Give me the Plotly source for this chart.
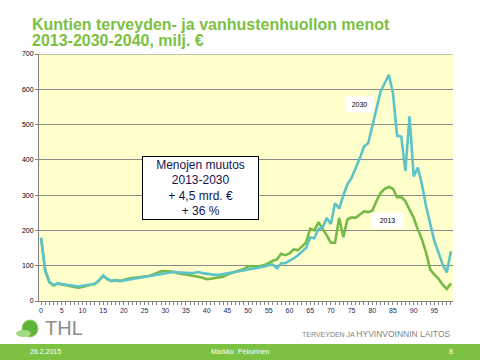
import plotly.graph_objects as go

ages = list(range(100))
tick_labels = [str(a) if a % 5 == 0 else "" for a in ages]

spend_2030 = [179, 87, 55, 45, 50, 48, 46, 45, 42, 41, 43, 46, 47, 49, 59, 72, 63, 57, 59, 56,
              58, 61, 62, 64, 65, 67, 69, 71, 74, 77, 79, 81, 82, 81, 80, 81, 79, 80, 82, 79,
              77, 75, 74, 74, 76, 80, 82, 84, 86, 88, 90, 91, 93, 95, 98, 102, 103, 93, 107, 107,
              113, 121, 129, 139, 150, 180, 178, 204, 208, 235, 218, 277, 262, 299, 331, 349, 375, 405, 438, 447,
              495, 544, 593, 617, 641, 589, 468, 466, 369, 523, 353, 378, 330, 268, 217, 170, 137, 104, 81, 141]

spend_2013 = [179, 86, 53, 44, 49, 47, 45, 44, 41, 38, 40, 44, 46, 48, 58, 71, 62, 56, 59, 57,
              61, 63, 65, 66, 67, 69, 71, 75, 80, 84, 85, 85, 83, 79, 77, 76, 75, 73, 69, 66,
              62, 63, 65, 66, 69, 75, 79, 81, 85, 91, 98, 99, 97, 99, 102, 107, 114, 118, 134, 130,
              135, 146, 144, 154, 166, 205, 200, 223, 206, 186, 165, 165, 235, 181, 231, 237, 236, 245, 254, 252,
              256, 283, 306, 318, 323, 318, 294, 295, 283, 259, 236, 203, 174, 137, 89, 75, 63, 46, 34, 50]

GREEN = "#7cc142"
CYAN = "#5ec3c9"
LINE_GREEN = "#76b947"

L, R, T, B = 39, 27, 54, 59
PW, PH = 480 - L - R, 360 - T - B


def px(x):
    return (x - L) / PW


def py(y):
    return (360 - B - y) / PH


fig = go.Figure()
fig.add_trace(go.Scatter(x=ages, y=spend_2013, mode="lines", name="2013",
                         line=dict(color=LINE_GREEN, width=2.6)))
fig.add_trace(go.Scatter(x=ages, y=spend_2030, mode="lines", name="2030",
                         line=dict(color=CYAN, width=2.6)))

fig.update_layout(
    width=480, height=360,
    margin=dict(l=L, r=R, t=T, b=B, autoexpand=False),
    paper_bgcolor="white",
    plot_bgcolor="#ffffcc",
    showlegend=False,
    font=dict(family="Liberation Sans, Arial, sans-serif"),
    xaxis=dict(range=[-0.5, 99.5], tickmode="array", tickvals=ages, ticktext=tick_labels,
               ticks="outside", ticklen=3, tickcolor="#808080", tickwidth=1,
               showgrid=False, showline=True, linecolor="#808080", linewidth=1,
               tickfont=dict(size=7, color="#1f2a5a"), zeroline=False, fixedrange=True),
    yaxis=dict(range=[0, 700], dtick=100, ticks="outside", ticklen=3, tickcolor="#808080",
               showgrid=True, gridcolor="#8a8a8a", gridwidth=1,
               showline=True, linecolor="#808080", linewidth=1, zeroline=False,
               tickfont=dict(size=7, color="black"), mirror=False, fixedrange=True),
)

# top border line of plot at 700
fig.add_shape(type="line", xref="paper", yref="y", x0=0, x1=1, y0=700, y1=700,
              line=dict(color="#8a8a8a", width=1))

# Title
fig.add_annotation(xref="paper", yref="paper", x=px(30), y=py(24.5), xanchor="left", yanchor="middle",
                   text="<b>Kuntien terveyden- ja vanhustenhuollon menot</b>", showarrow=False,
                   font=dict(size=16, color=GREEN))
fig.add_annotation(xref="paper", yref="paper", x=px(30), y=py(40.5), xanchor="left", yanchor="middle",
                   text="<b>2013-2030-2040, milj. €</b>", showarrow=False,
                   font=dict(size=16, color=GREEN))

# Info box
fig.add_annotation(x=38.4, y=320, xref="x", yref="y",
                   text="Menojen muutos<br>2013-2030<br>+ 4,5 mrd. €<br>+ 36 %",
                   showarrow=False, bgcolor="white", bordercolor="black", borderwidth=1,
                   borderpad=3, width=109, height=56, align="center",
                   font=dict(size=12, color="#141450"))

# Series labels
fig.add_annotation(x=76.9, y=558, text="2030", showarrow=False, bgcolor="white",
                   font=dict(size=7, color="black"), width=27, height=15, borderpad=0)
fig.add_annotation(x=83.6, y=227, text="2013", showarrow=False, bgcolor="white",
                   font=dict(size=7, color="black"), width=31, height=15, borderpad=0)

# Footer bar
fig.add_shape(type="rect", xref="paper", yref="paper", x0=px(0), x1=px(480),
              y0=py(360), y1=py(344), line=dict(width=0), fillcolor=GREEN, layer="above")
fig.add_annotation(xref="paper", yref="paper", x=px(45), y=py(351), text="26.2.2015",
                   showarrow=False, xanchor="center", yanchor="middle", font=dict(size=7, color="white"))
fig.add_annotation(xref="paper", yref="paper", x=px(240), y=py(351), text="Markku  Pekurinen",
                   showarrow=False, xanchor="center", yanchor="middle", font=dict(size=7, color="white"))
fig.add_annotation(xref="paper", yref="paper", x=px(451), y=py(351), text="8",
                   showarrow=False, xanchor="center", yanchor="middle", font=dict(size=7, color="white"))

# Logo
fig.add_shape(type="circle", xref="paper", yref="paper",
              x0=px(22), x1=px(38), y0=py(337), y1=py(320),
              fillcolor="#5fb33a", line=dict(color="#8fd06a", width=1))
fig.add_shape(type="circle", xref="paper", yref="paper",
              x0=px(16), x1=px(31), y0=py(337), y1=py(330),
              fillcolor="#a6da7e", line=dict(width=0), layer="above")
fig.add_annotation(xref="paper", yref="paper", x=px(43), y=py(328), text="THL",
                   showarrow=False, xanchor="left", yanchor="middle",
                   font=dict(size=20, color="#8c8c8c"))
fig.add_annotation(xref="paper", yref="paper", x=px(453), y=py(334),
                   text="<span style='font-size:7px'>TERVEYDEN JA </span>HYVINVOINNIN LAITOS",
                   showarrow=False, xanchor="right", yanchor="middle",
                   font=dict(size=8.5, color="#7f7f7f"))

fig.write_html("out.html", config={"displayModeBar": False},
               post_script="document.body.style.margin='0';document.body.style.overflow='hidden';")
